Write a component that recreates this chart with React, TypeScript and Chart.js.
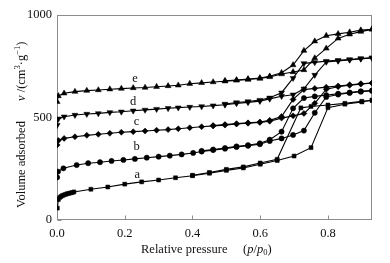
import React, { useEffect, useRef } from 'react';
import { Chart, registerables } from 'chart.js';
Chart.register(...registerables);

// ---- data (relative pressure p/p0, volume adsorbed cm3/g) ----
const aAdsP = [0.001, 0.004, 0.008, 0.012, 0.016, 0.02, 0.025, 0.03, 0.035, 0.04, 0.045, 0.05, 0.1, 0.15, 0.2, 0.25, 0.3, 0.35, 0.4, 0.45, 0.5, 0.55, 0.6, 0.65, 0.7, 0.75, 0.8, 0.85, 0.9, 0.93];
const aAdsV = [58, 100, 110, 115, 119, 122, 125, 128, 130, 132, 134, 137, 150, 161, 175, 186, 195, 206, 216, 228, 242, 254, 272, 290, 312, 353, 548, 565, 576, 584];
const aDesP = [0.93, 0.9, 0.85, 0.8, 0.75, 0.72, 0.65, 0.6, 0.55, 0.5, 0.45, 0.4];
const aDesV = [584, 579, 569, 561, 554, 547, 296, 278, 259, 247, 232, 218];

const bAdsP = [0.0005, 0.003, 0.019, 0.058, 0.092, 0.127, 0.161, 0.196, 0.23, 0.265, 0.3, 0.333, 0.368, 0.402, 0.427, 0.461, 0.496, 0.53, 0.564, 0.599, 0.628, 0.663, 0.697, 0.729, 0.761, 0.795, 0.83, 0.864, 0.897, 0.93];
const bAdsV = [208, 236, 252, 268, 277, 282, 288, 293, 298, 304, 309, 314, 320, 327, 334, 341, 348, 356, 362, 370, 385, 398, 415, 436, 523, 600, 612, 620, 626, 631];
const bDesP = [0.93, 0.897, 0.864, 0.83, 0.795, 0.761, 0.729, 0.697, 0.663, 0.628, 0.599, 0.564, 0.53, 0.496, 0.461, 0.427];
const bDesV = [631, 628, 622, 616, 609, 603, 595, 545, 431, 392, 374, 365, 359, 351, 344, 337];

const cAdsP = [0.0005, 0.004, 0.021, 0.053, 0.088, 0.122, 0.156, 0.19, 0.225, 0.26, 0.294, 0.328, 0.358, 0.392, 0.427, 0.461, 0.496, 0.53, 0.564, 0.599, 0.628, 0.663, 0.697, 0.729, 0.761, 0.795, 0.83, 0.864, 0.897, 0.93];
const cAdsV = [366, 388, 398, 406, 413, 418, 423, 428, 431, 434, 438, 441, 445, 450, 455, 459, 463, 468, 472, 476, 482, 497, 508, 520, 569, 638, 650, 657, 663, 668];
const cDesP = [0.93, 0.897, 0.864, 0.83, 0.795, 0.761, 0.729, 0.697, 0.663, 0.628, 0.599, 0.564, 0.53, 0.496, 0.461];
const cDesV = [668, 665, 660, 654, 648, 642, 636, 588, 505, 486, 478, 474, 470, 466, 461];

const dAdsP = [0.0005, 0.004, 0.021, 0.053, 0.088, 0.122, 0.156, 0.19, 0.225, 0.26, 0.294, 0.328, 0.358, 0.392, 0.427, 0.461, 0.496, 0.53, 0.564, 0.599, 0.628, 0.663, 0.697, 0.729, 0.761, 0.795, 0.83, 0.864, 0.897, 0.93];
const dAdsV = [463, 494, 504, 512, 517, 520, 525, 528, 533, 537, 541, 545, 548, 551, 554, 558, 562, 569, 574, 580, 591, 604, 611, 640, 707, 771, 776, 781, 786, 791];
const dDesP = [0.93, 0.897, 0.864, 0.83, 0.795, 0.761, 0.729, 0.697, 0.663, 0.628, 0.599, 0.564, 0.53, 0.496];
const dDesV = [791, 788, 783, 779, 775, 769, 764, 692, 621, 596, 585, 578, 573, 566];

const eAdsP = [0.0005, 0.004, 0.021, 0.053, 0.088, 0.122, 0.156, 0.19, 0.225, 0.26, 0.294, 0.328, 0.358, 0.392, 0.427, 0.461, 0.496, 0.53, 0.564, 0.599, 0.628, 0.663, 0.697, 0.729, 0.761, 0.795, 0.83, 0.864, 0.897, 0.93];
const eAdsV = [577, 605, 618, 626, 631, 634, 638, 641, 644, 646, 650, 654, 657, 665, 669, 673, 677, 681, 685, 690, 698, 712, 722, 732, 790, 837, 886, 906, 919, 930];
const eDesP = [0.93, 0.897, 0.864, 0.83, 0.795, 0.761, 0.729, 0.697, 0.663, 0.628, 0.599, 0.564, 0.53, 0.496];
const eDesV = [930, 926, 916, 908, 899, 872, 826, 756, 718, 701, 693, 688, 683, 679];

const seriesNames = ['a', 'b', 'c', 'd', 'e'];
const seriesLabelP = [0.237, 0.235, 0.235, 0.225, 0.23];
const seriesLabelV = [220, 358, 477, 577, 688];

const xTickStep = 0.2;
const yTicks = [0, 500, 1000];

const SERIF = "'Liberation Serif', 'Times New Roman', serif";
Chart.defaults.font.family = SERIF;

type Seg = { t: string; italic?: boolean; small?: boolean; dy?: number };

function drawSegs(ctx: CanvasRenderingContext2D, segs: Seg[], x: number, y: number, size: number) {
  let cx = x;
  for (const s of segs) {
    const sz = s.small ? size * 0.68 : size;
    ctx.font = `${s.italic ? 'italic ' : ''}${sz}px ${SERIF}`;
    ctx.fillText(s.t, cx, y + (s.dy || 0));
    cx += ctx.measureText(s.t).width;
  }
}

const decor = {
  id: 'decor',
  beforeDatasetsDraw(chart: any) {
    const { ctx, chartArea: ca, scales } = chart;
    const xs = scales.x, ys = scales.y;
    ctx.save();
    ctx.strokeStyle = '#8c8c8c';
    ctx.lineWidth = 1;
    const L = Math.round(ca.left) + 0.5, T = Math.round(ca.top) + 0.5;
    const R = Math.round(ca.right) - 0.5, B = Math.round(ca.bottom) - 0.5;
    ctx.strokeRect(L, T, R - L, B - T);
    ctx.beginPath();
    xs.ticks.forEach((t: any) => {
      const px = Math.round(xs.getPixelForValue(t.value)) + 0.5;
      ctx.moveTo(px, B);
      ctx.lineTo(px, B - 4);
    });
    ys.ticks.forEach((t: any) => {
      const py = Math.round(ys.getPixelForValue(t.value)) + 0.5;
      ctx.moveTo(L, py);
      ctx.lineTo(L + 4, py);
    });
    ctx.stroke();
    ctx.restore();
  },
  afterDraw(chart: any) {
    const { ctx, scales } = chart;
    const xs = scales.x, ys = scales.y;
    ctx.save();
    ctx.fillStyle = '#111';
    ctx.textBaseline = 'middle';
    ctx.textAlign = 'center';
    ctx.font = `12.5px ${SERIF}`;
    seriesNames.forEach((n, i) => {
      ctx.fillText(n, xs.getPixelForValue(seriesLabelP[i]), ys.getPixelForValue(seriesLabelV[i]));
    });
    ctx.textAlign = 'left';
    // x title
    drawSegs(ctx, [{ t: 'Relative pressure' }], 141, 250, 12.5);
    drawSegs(ctx, [
      { t: '(' }, { t: 'p', italic: true }, { t: '/' }, { t: 'p', italic: true },
      { t: '0', small: true, dy: 3 }, { t: ')' }
    ], 243, 250, 12.5);
    // y title (rotated)
    ctx.translate(22, 0);
    ctx.rotate(-Math.PI / 2);
    drawSegs(ctx, [{ t: 'Volume adsorbed' }], -208, 0, 12.5);
    drawSegs(ctx, [
      { t: 'v', italic: true }, { t: ' /(cm' }, { t: '3', small: true, dy: -4 },
      { t: '·g' }, { t: '−1', small: true, dy: -4 }, { t: ')' }
    ], -101, 0, 12.5);
    ctx.restore();
  }
};

function mk(p: number[], v: number[], style: string, rot = 0, r = 3) {
  return {
    data: p.map((x, i) => ({ x, y: v[i] })),
    showLine: true,
    borderColor: '#000',
    borderWidth: 1.1,
    pointStyle: style,
    pointRotation: rot,
    pointRadius: r,
    pointBackgroundColor: '#000',
    pointBorderColor: '#000',
    pointBorderWidth: 0.5,
    tension: 0,
  };
}

export default function App() {
  const ref = useRef<HTMLCanvasElement>(null);
  useEffect(() => {
    if (!ref.current) return;
    const chart = new Chart(ref.current, {
      type: 'scatter',
      data: {
        datasets: [
          mk(aAdsP, aAdsV, 'rect', 0, 2.8), mk(aDesP, aDesV, 'rect', 0, 2.8),
          mk(bAdsP, bAdsV, 'circle', 0, 2.6), mk(bDesP, bDesV, 'circle', 0, 2.6),
          mk(cAdsP, cAdsV, 'rectRot', 0, 3), mk(cDesP, cDesV, 'rectRot', 0, 3),
          mk(dAdsP, dAdsV, 'triangle', 180, 3.4), mk(dDesP, dDesV, 'triangle', 180, 3.4),
          mk(eAdsP, eAdsV, 'triangle', 0, 3.4), mk(eDesP, eDesV, 'triangle', 0, 3.4),
        ] as any,
      },
      options: {
        animation: false,
        responsive: false,
        layout: { padding: { top: 15, right: 18, left: 0, bottom: 0 } },
        plugins: { legend: { display: false }, tooltip: { enabled: false } },
        scales: {
          x: {
            type: 'linear',
            min: 0,
            max: 0.93,
            grid: { display: false, drawTicks: false },
            border: { display: false },
            ticks: {
              stepSize: xTickStep,
              includeBounds: false,
              padding: 6,
              color: '#111',
              font: { family: SERIF, size: 12.5 },
              callback: (v: any) => Number(v).toFixed(1),
            },
            afterFit: (s: any) => { s.height = 43; },
          },
          y: {
            type: 'linear',
            min: 0,
            max: 1000,
            grid: { display: false, drawTicks: false },
            border: { display: false },
            afterBuildTicks: (s: any) => { s.ticks = yTicks.map(v => ({ value: v })); },
            ticks: {
              padding: 5,
              color: '#111',
              font: { family: SERIF, size: 12.5 },
              callback: (v: any) => String(v),
            },
            afterFit: (s: any) => { s.width = 57; },
          },
        },
      },
      plugins: [decor],
    });
    return () => chart.destroy();
  }, []);
  return (
    <div style={{ position: 'fixed', left: 0, top: 0, width: 390, height: 263, background: '#fff' }}>
      <canvas ref={ref} width={390} height={263} />
    </div>
  );
}
